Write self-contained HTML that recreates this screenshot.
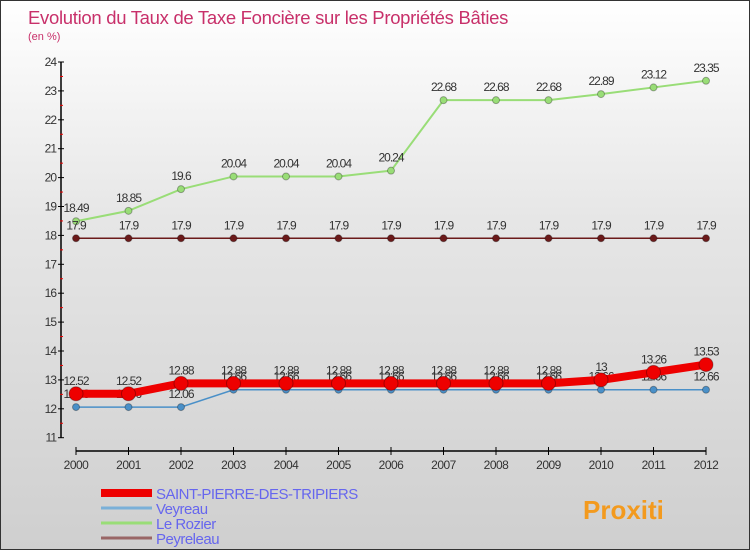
<!DOCTYPE html>
<html><head><meta charset="utf-8"><style>
body{margin:0;width:750px;height:550px;overflow:hidden;font-family:"Liberation Sans",sans-serif}
#wrap{position:relative;width:748px;height:548px;border:1px solid #333;background:linear-gradient(#ffffff,#e6e6e6 40%,#cfcfcf)}
svg{position:absolute;left:0;top:0}
</style></head><body>
<div id="wrap">
<svg id="c" width="750" height="550">
<text x="27" y="23" font-size="18.5" fill="#c8306a" letter-spacing="-0.3">Evolution du Taux de Taxe Foncière sur les Propriétés Bâties</text>
<text x="27" y="39" font-size="11" fill="#c8306a">(en %)</text>
</svg>
</div>
<script>
const years=[2000,2001,2002,2003,2004,2005,2006,2007,2008,2009,2010,2011,2012];
const saint=[12.52,12.52,12.88,12.88,12.88,12.88,12.88,12.88,12.88,12.88,13,13.26,13.53];
const veyreau=[12.06,12.06,12.06,12.66,12.66,12.66,12.66,12.66,12.66,12.66,12.66,12.66,12.66];
const rozier=[18.49,18.85,19.6,20.04,20.04,20.04,20.24,22.68,22.68,22.68,22.89,23.12,23.35];
const peyre=[17.9,17.9,17.9,17.9,17.9,17.9,17.9,17.9,17.9,17.9,17.9,17.9,17.9];
const yTicks=[11,12,13,14,15,16,17,18,19,20,21,22,23,24];
const NS="http://www.w3.org/2000/svg",svg=document.getElementById('c');
const X=i=>75+i*52.5, Y=v=>61+(24-v)*28.9;
function mk(t,a,p){const e=document.createElementNS(NS,t);for(const k in a)e.setAttribute(k,a[k]);(p||svg).appendChild(e);return e;}
let ax=mk('line',{x1:60,y1:Y(24),x2:60,y2:Y(11),stroke:'#000','stroke-width':1.5});


yTicks.forEach(v=>{
 mk('line',{x1:57,y1:Y(v),x2:63,y2:Y(v),stroke:'#000'});
 if(v<24){mk('line',{x1:59,y1:Y(v+0.5),x2:62,y2:Y(v+0.5),stroke:'#e00'});}
 const t=mk('text',{x:55,y:Y(v)+4,'text-anchor':'end','font-size':12,fill:'#333','letter-spacing':'-1'});
 t.textContent=v;
 
 
});
let xa=mk('line',{x1:X(0),y1:450,x2:X(12),y2:450,stroke:'#000','stroke-width':1.5});


years.forEach((y,i)=>{
 mk('line',{x1:X(i),y1:446,x2:X(i),y2:454,stroke:'#000'});
 const t=mk('text',{x:X(i),y:468,'text-anchor':'middle','font-size':12,fill:'#333','letter-spacing':'-0.5'});
 t.textContent=y;
 
 
});
function series(vals,color,w,r,name,labelDy){
 const g=mk('g',{});
 
 
 mk('polyline',{points:vals.map((v,i)=>X(i)+','+Y(v)).join(' '),fill:'none',stroke:color,'stroke-width':w},g);
 vals.forEach((v,i)=>{
  const c=mk('circle',{cx:X(i),cy:Y(v),r:r,fill:color,stroke:'rgba(0,0,0,0.3)'},g);
  
  
  const t=mk('text',{x:X(i),y:Y(v)+labelDy,'text-anchor':'middle','font-size':12,fill:'#333','letter-spacing':'-1'},g);
  t.textContent=v;
 });
}
series(rozier,'#99dd77',2,3.5,'le-rozier-series',-9);
series(peyre,'#6b1a1a',1.5,3.5,'peyreleau-series',-9);
series(veyreau,'#4a90c8',1.5,3.5,'veyreau-series',-9);
series(saint,'#ee0000',8,7,'saint-pierre-series',-9);
const leg=[['SAINT-PIERRE-DES-TRIPIERS','#ee0000',8],['Veyreau','#7ab0d8',3],['Le Rozier','#99dd77',3],['Peyreleau','#996666',3]];
leg.forEach((l,i)=>{
 const y=487+i*15;
 const g=mk('g',{});
 
 
 mk('line',{x1:100,y1:y+5,x2:151,y2:y+5,stroke:l[1],'stroke-width':l[2]},g);
 const t=mk('text',{x:155,y:y+11,'font-size':15,fill:'#6666ee','letter-spacing':'-0.5'},g);
 t.textContent=l[0];
});
const p=mk('text',{x:582,y:518,'font-size':26,'font-weight':'bold',fill:'#f39a1e'});
p.textContent='Proxiti';


</script>
</body></html>
